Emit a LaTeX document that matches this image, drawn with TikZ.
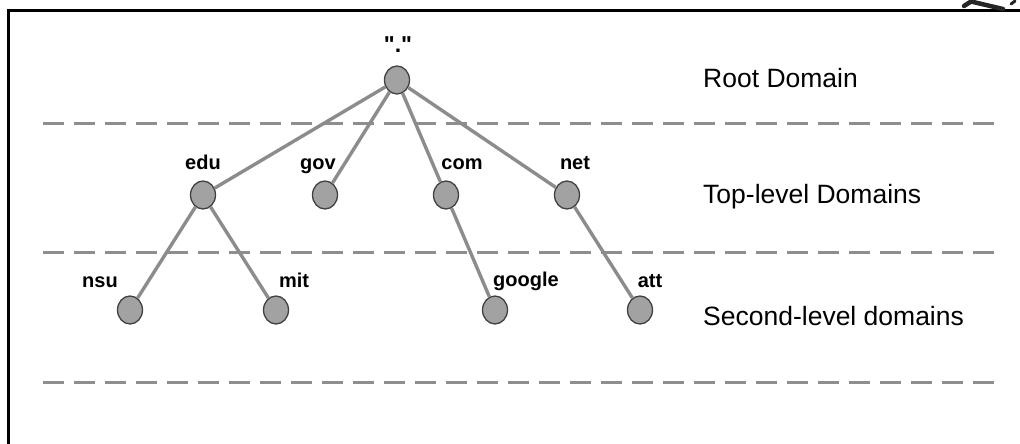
\documentclass[tikz,border=0pt]{standalone}
\usepackage{fontspec}
\setmainfont{Liberation Sans}
\newfontfamily\quotefont[Ligatures=TeXOff]{Liberation Sans}
\usetikzlibrary{shapes.geometric}
\definecolor{edgegray}{HTML}{8C8C8C}
\definecolor{dashgray}{HTML}{8E8E8E}
\definecolor{nodefill}{HTML}{A2A2A2}
\definecolor{nodeline}{HTML}{404040}
\tikzset{
  dom/.style={ellipse, draw=nodeline, line width=1.3pt, fill=nodefill,
    minimum width=25pt, minimum height=28pt, inner sep=0pt},
  lbl/.style={anchor=base, inner sep=0pt, font=\fontsize{20}{24}\selectfont\bfseries},
  lvl/.style={anchor=base west, inner sep=0pt, font=\fontsize{26.5}{31}\selectfont},
  edge/.style={draw=edgegray, line width=3.4pt},
  sep/.style={draw=dashgray, line width=3pt, dash pattern=on 21pt off 10pt},
  frame/.style={draw=black, line width=2.2pt}
}
\begin{document}
\begin{tikzpicture}[x=1pt,y=-1pt]
\useasboundingbox (0,0) rectangle (1020,444);
% frame (top and left edges visible)
\coordinate (ftl) at (8.5,10.5);
\coordinate (ftr) at (1020,10.5);
\coordinate (fbl) at (8.5,444);
\draw[frame] (ftr) -- (ftl) -- (fbl);
% corner mark
\draw[draw=black!85, line width=4.5pt, line cap=round] (964,6) -- (971,1.5) -- (1003,9);
\draw[draw=black!85, line width=3pt, line cap=round] (1011,4) -- (1015,1);
% separators
\coordinate (s1a) at (43,123);  \coordinate (s1b) at (994,123);
\coordinate (s2a) at (43,252);  \coordinate (s2b) at (994,252);
\coordinate (s3a) at (43,382);  \coordinate (s3b) at (994,382);
\draw[sep] (s1a) -- (s1b);
\draw[sep] (s2a) -- (s2b);
\draw[sep] (s3a) -- (s3b);
% nodes
\node[dom] (root) at (397,80) {};
\node[dom] (edu) at (203,195) {};
\node[dom] (gov) at (325,195) {};
\node[dom] (com) at (446,195) {};
\node[dom] (net) at (567,195) {};
\node[dom] (nsu) at (130,310) {};
\node[dom] (mit) at (276,310) {};
\node[dom] (google) at (495,310) {};
\node[dom] (att) at (640,310) {};
% edges
\draw[edge] (root) -- (edu);
\draw[edge] (root) -- (gov);
\draw[edge] (root) -- (com);
\draw[edge] (root) -- (net);
\draw[edge] (edu) -- (nsu);
\draw[edge] (edu) -- (mit);
\draw[edge] (com) -- (google);
\draw[edge] (net) -- (att);
% labels
\node[lbl, font=\quotefont\fontsize{23}{27}\selectfont\bfseries] (lroot) at (398,53) {"."};
\node[lbl] (ledu) at (203,169) {edu};
\node[lbl] (lgov) at (318,169) {gov};
\node[lbl] (lcom) at (462,169) {com};
\node[lbl] (lnet) at (575,169) {net};
\node[lbl] (lnsu) at (100,287) {nsu};
\node[lbl] (lmit) at (294,287) {mit};
\node[lbl] (lgoogle) at (526,286) {google};
\node[lbl] (latt) at (650,287) {att};
\node[lvl] (l1) at (703,88) {Root Domain};
\node[lvl] (l2) at (703,203) {Top-level Domains};
\node[lvl] (l3) at (703,325) {Second-level domains};
\end{tikzpicture}
\end{document}
